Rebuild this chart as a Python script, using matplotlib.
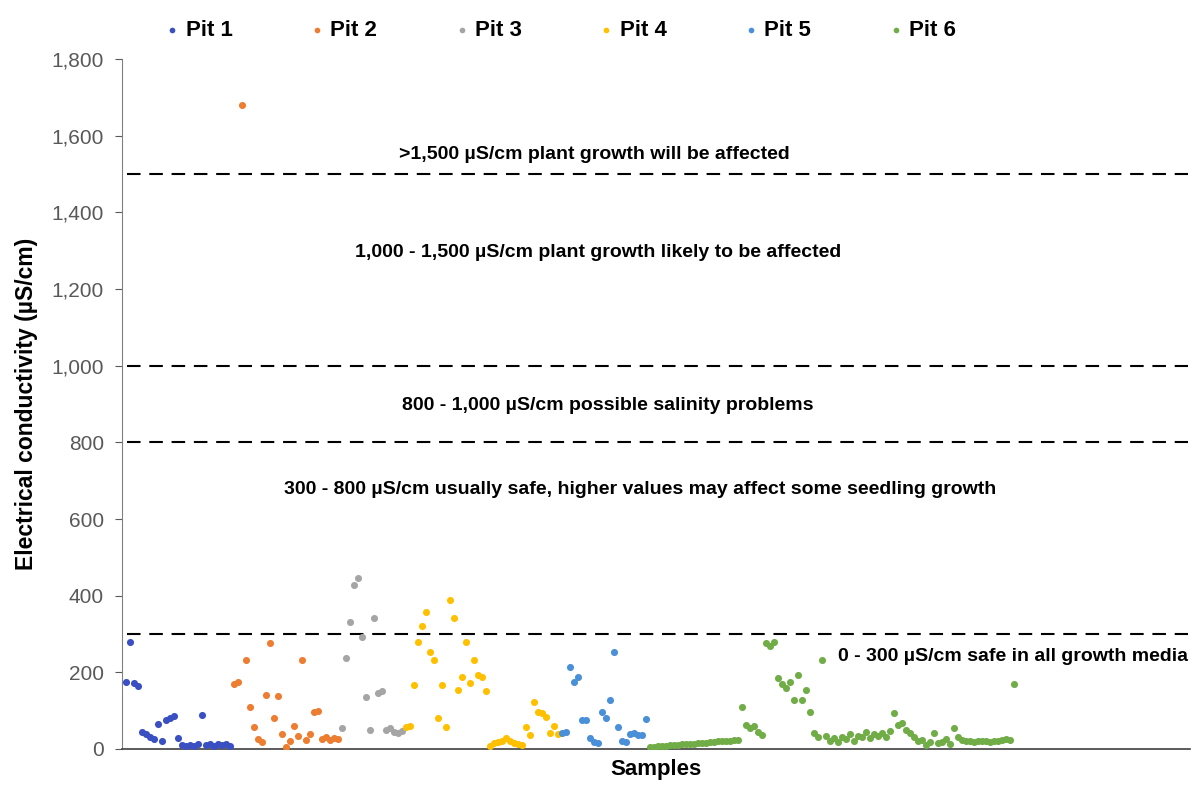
import matplotlib.pyplot as plt
from matplotlib.ticker import FuncFormatter
import numpy as np

plt.rcParams['font.family'] = ['Liberation Sans', 'DejaVu Sans']

# EC readings per pit, in sample order (uS/cm)
pit1 = [175, 280, 172, 165, 45, 38, 30, 25, 65, 20, 75, 80, 85, 28, 10, 8, 10,
        8, 12, 88, 10, 12, 8, 14, 10, 12, 8]
pit2 = [170, 175, 1680, 232, 110, 58, 25, 18, 140, 277, 81, 138, 39, 5, 20, 60,
        35, 232, 23, 40, 97, 100, 26, 30, 23, 28, 25]
pit3 = [55, 237, 331, 428, 446, 292, 136, 50, 342, 146, 150, 50, 55, 44, 42, 48]
pit4 = [57, 60, 167, 280, 320, 357, 253, 232, 81, 167, 57, 389, 342, 154, 188,
        279, 172, 232, 193, 188, 152, 8, 15, 18, 22, 29, 20, 16, 12, 10, 57, 37,
        123, 97, 94, 83, 42, 60, 40]
pit5 = [42, 45, 214, 175, 188, 76, 76, 29, 18, 16, 97, 80, 128, 253, 57, 22,
        18, 40, 42, 37, 37, 78]
pit6 = [5, 6, 8, 8, 9, 10, 10, 11, 12, 12, 13, 14, 15, 15, 16, 18, 18, 20, 20,
        22, 22, 24, 23, 110, 63, 55, 60, 45, 37, 277, 268, 279, 185, 170, 159,
        175, 128, 193, 128, 154, 97, 42, 30, 232, 35, 22, 28, 18, 30, 25, 40,
        22, 35, 30, 45, 28, 38, 35, 42, 30, 48, 94, 63, 68, 50, 42, 30, 22, 23,
        10, 18, 42, 15, 18, 25, 12, 55, 30, 23, 20, 22, 18, 20, 22, 20, 18, 22,
        20, 23, 25, 23, 170]

pits = [pit1, pit2, pit3, pit4, pit5, pit6]
labels = ["Pit 1", "Pit 2", "Pit 3", "Pit 4", "Pit 5", "Pit 6"]
colors = ["#3A50C2", "#ED7D31", "#A5A5A5", "#FFC000", "#4A90D9", "#70AD47"]

thresholds = [300, 800, 1000, 1500]
zone_text = [">1,500 µS/cm plant growth will be affected",
             "1,000 - 1,500 µS/cm plant growth likely to be affected",
             "800 - 1,000 µS/cm possible salinity problems",
             "300 - 800 µS/cm usually safe, higher values may affect some seedling growth",
             "0 - 300 µS/cm safe in all growth media"]
zone_y = [1550, 1295, 895, 676, 240]
zone_x = [118, 119, 121.5, 129.5, 266.5]
zone_ha = ["center", "center", "center", "center", "right"]

fig = plt.figure(figsize=(12.01, 7.87), dpi=100)
ax = fig.add_axes([0.1016, 0.0483, 0.8894, 0.8767])

start = 1
for vals, lab, col in zip(pits, labels, colors):
    x = np.arange(start, start + len(vals))
    ax.scatter(x, vals, s=26, color=col, label=lab, zorder=3, linewidths=0)
    start += len(vals)

for t in thresholds:
    ax.axhline(t, xmin=0.005, xmax=0.998, color="black", ls=(0, (6.5, 4.2)),
               lw=1.5, zorder=2)

for txt, yv, xv, ha in zip(zone_text, zone_y, zone_x, zone_ha):
    ax.text(xv, yv, txt, ha=ha, va="center", fontsize=14,
            fontweight="bold", color="black")

ax.set_xlim(0, 267)
ax.set_ylim(0, 1800)
ax.set_yticks(np.arange(0, 1801, 200))
ax.yaxis.set_major_formatter(FuncFormatter(lambda v, p: f"{int(v):,}"))
ax.set_xticks([])
ax.tick_params(axis="y", labelsize=15, colors="#595959", length=5,
               direction="out", pad=8)
ax.spines['right'].set_visible(False)
ax.spines['top'].set_visible(False)
ax.spines['left'].set_color("#808080")
ax.spines['bottom'].set_color("#404040")
ax.spines['bottom'].set_linewidth(1.2)

ax.set_ylabel("Electrical conductivity (µS/cm)", fontsize=16.5,
              fontweight="bold", labelpad=10)
ax.set_xlabel("Samples", fontsize=16, fontweight="bold", labelpad=7)

fig.legend(loc="upper center", bbox_to_anchor=(0.465, 1.0), ncol=6,
           frameon=False, prop={"size": 16, "weight": "bold"},
           markerscale=0.8, handletextpad=0.1, columnspacing=3.3,
           handlelength=1.0)

fig.savefig("out.png", dpi=100)
